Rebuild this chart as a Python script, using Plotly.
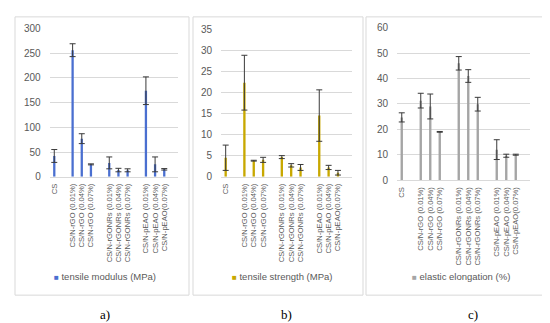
import plotly.graph_objects as go

categories = ["CS", " ",
              "CS/N-rGO (0.01%)", "CS/N-rGO (0.04%)", "CS/N-rGO (0.07%)", "  ",
              "CS/N-rGONRs (0.01%)", "CS/N-rGONRs (0.04%)", "CS/N-rGONRs (0.07%)", "   ",
              "CS/N-pEAO (0.01%)", "CS/N-pEAO (0.04%)", "CS/N-pEAO(0.07%)", "    "]

modulus =      [42, None, 256, 77, 25, None, 28, 13.5, 13, None, 174, 25, 15, None]
modulus_err =  [13, None, 13, 10, 1, None, 12, 3.5, 3, None, 28, 15, 1.5, None]

strength =     [4.5, None, 22.3, 3.8, 4.0, None, 4.65, 2.7, 2.2, None, 14.5, 2.2, 0.95, None]
strength_err = [3.0, None, 6.5, 0.1, 0.6, None, 0.35, 0.4, 0.7, None, 6.1, 0.5, 0.55, None]

elong =        [24.7, None, 31.3, 29.0, 19.0, None, 46.0, 41.0, 29.9, None, 12.0, 9.6, 10.0, None]
elong_err =    [1.8, None, 2.9, 4.9, 0.15, None, 2.65, 2.5, 2.7, None, 3.9, 0.6, 0.2, None]

series_names = ["tensile modulus (MPa)", "tensile strength (MPa)", "elastic elongation (%)"]
colors = ["#4A6FD0", "#C8A800", "#A5A5A5"]
panel_labels = ["a)", "b)", "c)"]

W, H = 550, 323
def px(x):
    return x / W
def py(y):
    return 1 - y / H

fig = go.Figure()

panels = [
    dict(vals=modulus, err=modulus_err, xd=(41.7, 170), yd=(169, 15), rng=[0, 300], dt=50,
         box=(7, 181), legx=97, labx=97),
    dict(vals=strength, err=strength_err, xd=(213, 344), yd=(169, 15.7), rng=[0, 35], dt=5,
         box=(185, 355), legx=274, labx=278),
    dict(vals=elong, err=elong_err, xd=(389, 522), yd=(172.5, 14.3), rng=[0, 60], dt=10,
         box=(358, 541), legx=453, labx=465),
]

tickfont = dict(family="Liberation Sans", size=10, color="#595959")
xtickfont = dict(family="Liberation Sans", size=7.6, color="#595959")

for i, p in enumerate(panels):
    suffix = "" if i == 0 else str(i + 1)
    fig.add_trace(go.Bar(
        x=categories, y=p["vals"], name=series_names[i],
        marker=dict(color=colors[i], line=dict(width=0)),
        error_y=dict(type="data", array=p["err"], visible=True,
                     color="#3A3A3A", thickness=1, width=3),
        xaxis="x" + suffix, yaxis="y" + suffix, showlegend=False,
    ))
    fig.layout["xaxis" + suffix] = dict(
        domain=[px(p["xd"][0]), px(p["xd"][1])], anchor="y" + suffix,
        type="category", categoryorder="array", categoryarray=categories,
        tickangle=-90, tickfont=xtickfont, showgrid=False,
        showline=True, linecolor="#D9D9D9", linewidth=1,
        ticks="", ticklabelstandoff=3, fixedrange=True,
    )
    fig.layout["yaxis" + suffix] = dict(
        domain=[py(p["yd"][0]), py(p["yd"][1])], anchor="x" + suffix,
        range=p["rng"], dtick=p["dt"], tickfont=tickfont,
        showgrid=True, gridcolor="#D9D9D9", gridwidth=1,
        zeroline=False, showline=False, ticks="", ticklabelstandoff=8,
        fixedrange=True,
    )
    # panel frame
    fig.add_shape(type="rect", xref="paper", yref="paper",
                  x0=px(p["box"][0]), x1=px(p["box"][1]), y0=py(292), y1=py(3),
                  line=dict(color="#D9D9D9", width=1), fillcolor="rgba(0,0,0,0)", layer="below")
    # legend
    fig.add_annotation(xref="paper", yref="paper", x=px(p["legx"]), y=py(273),
                       xanchor="center", yanchor="middle", showarrow=False,
                       text=f"<span style='color:{colors[i]};font-size:8px'>■</span> {series_names[i]}",
                       font=dict(family="Liberation Sans", size=9.5, color="#595959"))
    # panel label
    fig.add_annotation(xref="paper", yref="paper", x=px(p["labx"]), y=py(312),
                       xanchor="center", yanchor="middle", showarrow=False,
                       text=panel_labels[i],
                       font=dict(family="Liberation Serif", size=13, color="#000000"))

fig.update_layout(
    width=W, height=H, margin=dict(l=0, r=0, t=0, b=0),
    paper_bgcolor="white", plot_bgcolor="white",
    bargap=0.75, showlegend=False,
)

fig.write_html("out.html")
